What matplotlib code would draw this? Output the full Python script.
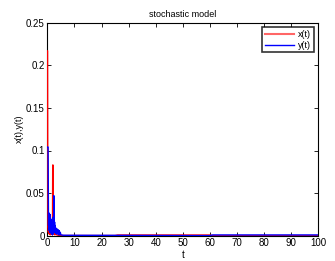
import matplotlib
matplotlib.use("Agg")
import matplotlib.pyplot as plt

plt.rcParams['font.family'] = ['Liberation Sans', 'DejaVu Sans']

# x(t) samples
t_x = [0, 0.1, 0.2, 0.4, 0.5, 0.7, 0.9, 1.1, 1.3, 1.5, 1.7, 1.9, 2.0,
       2.1, 2.2, 2.3, 2.5, 2.8, 3.0, 3.5, 4.0, 5.0, 6.0, 25.0, 26.0, 60.0,
       61.0, 100.0]
x_vals = [0.217, 0.217, 0.01, 0.004, 0.008, 0.002, 0.007, 0.001, 0.006, 0.002,
          0.005, 0.001, 0.083, 0.083, 0.003, 0.002, 0.004, 0.001, 0.002, 0.001,
          0.0005, 0.0003, 0.0002, 0.0002, 0.0008, 0.0008, 0.0001, 0.0001]

# y(t) samples
t_y = [0, 0.3, 0.4, 0.45, 0.5, 0.55, 0.6, 0.7, 0.8, 0.9, 1.0,
       1.1, 1.2, 1.3, 1.4, 1.5, 1.6, 1.7, 1.8, 1.9, 2.0,
       2.1, 2.2, 2.3, 2.4, 2.5, 2.6, 2.7, 2.8, 2.9, 3.0,
       3.2, 3.4, 3.6, 3.8, 4.0, 4.2, 4.4, 4.6, 4.8, 5.0,
       6.0, 25.0, 60.0, 61.0, 100.0]
y_vals = [0.104, 0.104, 0.04, 0.012, 0.027, 0.008, 0.026, 0.006, 0.024, 0.004, 0.025,
          0.005, 0.02, 0.003, 0.019, 0.006, 0.015, 0.002, 0.012, 0.001, 0.006,
          0.002, 0.022, 0.004, 0.047, 0.045, 0.01, 0.016, 0.004, 0.012, 0.003,
          0.009, 0.002, 0.008, 0.002, 0.007, 0.001, 0.006, 0.001, 0.004, 0.001,
          0.0005, 0.0004, 0.0001, 0.0009, 0.0009]

xticks = [0, 10, 20, 30, 40, 50, 60, 70, 80, 90, 100]
yticks = [0, 0.05, 0.1, 0.15, 0.2, 0.25]
ytick_labels = ['0', '0.05', '0.1', '0.15', '0.2', '0.25']

fig = plt.figure(figsize=(3.35, 2.61), dpi=100)
ax = fig.add_axes([47.3 / 335, 1 - 235.7 / 261, 271 / 335, 213 / 261])

ax.plot(t_x, x_vals, color='#ff0000', lw=1.0, label='x(t)', zorder=3)
ax.plot(t_y, y_vals, color='#0000ff', lw=1.0, label='y(t)', zorder=3)

ax.set_xlim(0, 100)
ax.set_ylim(0, 0.25)
ax.set_xticks(xticks)
ax.set_yticks(yticks)
ax.set_yticklabels(ytick_labels)
ax.tick_params(direction='in', top=True, right=True, length=3, width=0.6,
               labelsize=7, pad=2)
for s in ax.spines.values():
    s.set_linewidth(0.8)

ax.set_title('stochastic model', fontsize=6.5, pad=4)
ax.set_xlabel('t', fontsize=7, labelpad=1)
ax.set_ylabel('x(t),y(t)', fontsize=6.5, labelpad=1)

leg = ax.legend(loc='upper right', fontsize=6.5, frameon=True, fancybox=False,
                edgecolor='black', handlelength=3.2, markerfirst=True,
                borderaxespad=0.5, labelspacing=0.2, handletextpad=0.5,
                borderpad=0.3)
leg.get_frame().set_linewidth(1.2)
leg.get_lines()[0].set_color('#ff6666')
leg.get_lines()[0].set_linewidth(1.5)
leg.get_lines()[1].set_linewidth(1.0)

fig.savefig('out.png', dpi=100)
